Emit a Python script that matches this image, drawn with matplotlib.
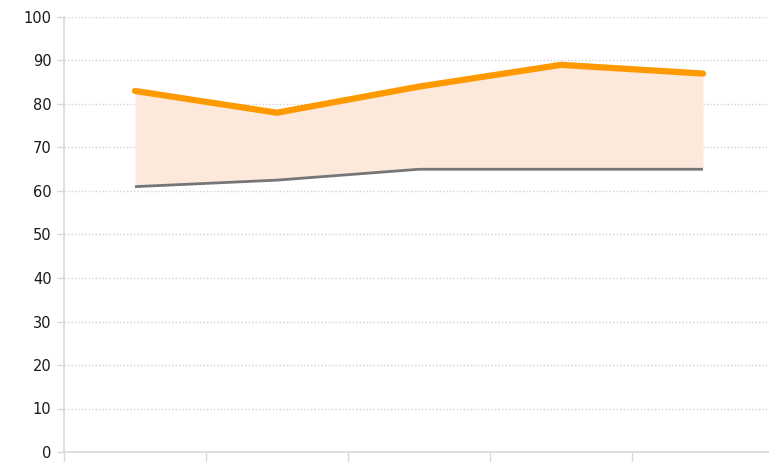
import matplotlib
matplotlib.use("Agg")
import matplotlib.pyplot as plt
import numpy as np

# Data
categories = ["A", "B", "C", "D", "E"]
upper = [83, 78, 84, 89, 87]
lower = [61, 62.5, 65, 65, 65]
yticks = list(range(0, 101, 10))

fig = plt.figure(figsize=(7.69, 4.62), dpi=100)
ax = fig.add_axes([64 / 769, 10 / 462, 710 / 769, 435 / 462])

x = np.arange(len(categories))
ax.fill_between(x, lower, upper, color="#fde9dc", linewidth=0, zorder=1)
ax.plot(x, lower, color="#767676", linewidth=2.0, solid_capstyle="butt", zorder=2)
ax.plot(x, upper, color="#ff9900", linewidth=4.5, solid_capstyle="round", zorder=3)

ax.set_xlim(-0.5, len(categories) - 0.5)
ax.set_ylim(0, 100)

# y axis
ax.set_yticks(yticks)
ax.set_yticklabels([str(v) for v in yticks], fontsize=10.5, color="#1a1a1a")
ax.yaxis.grid(True, linestyle=(0, (1, 1.5)), color="#d0d0d0", linewidth=1.0)
ax.set_axisbelow(True)
ax.tick_params(axis="y", length=5, width=1, color="#d9d9d9", pad=4)

# x axis: ticks at category boundaries, no labels
ax.set_xticks(np.arange(-0.5, len(categories), 1.0))
ax.set_xticklabels([])
ax.tick_params(axis="x", length=7, width=1, color="#d9d9d9", direction="out")

for side in ["top", "right"]:
    ax.spines[side].set_visible(False)
for side in ["left", "bottom"]:
    ax.spines[side].set_color("#d9d9d9")
    ax.spines[side].set_linewidth(1.2)

fig.savefig("out.png", dpi=100)
